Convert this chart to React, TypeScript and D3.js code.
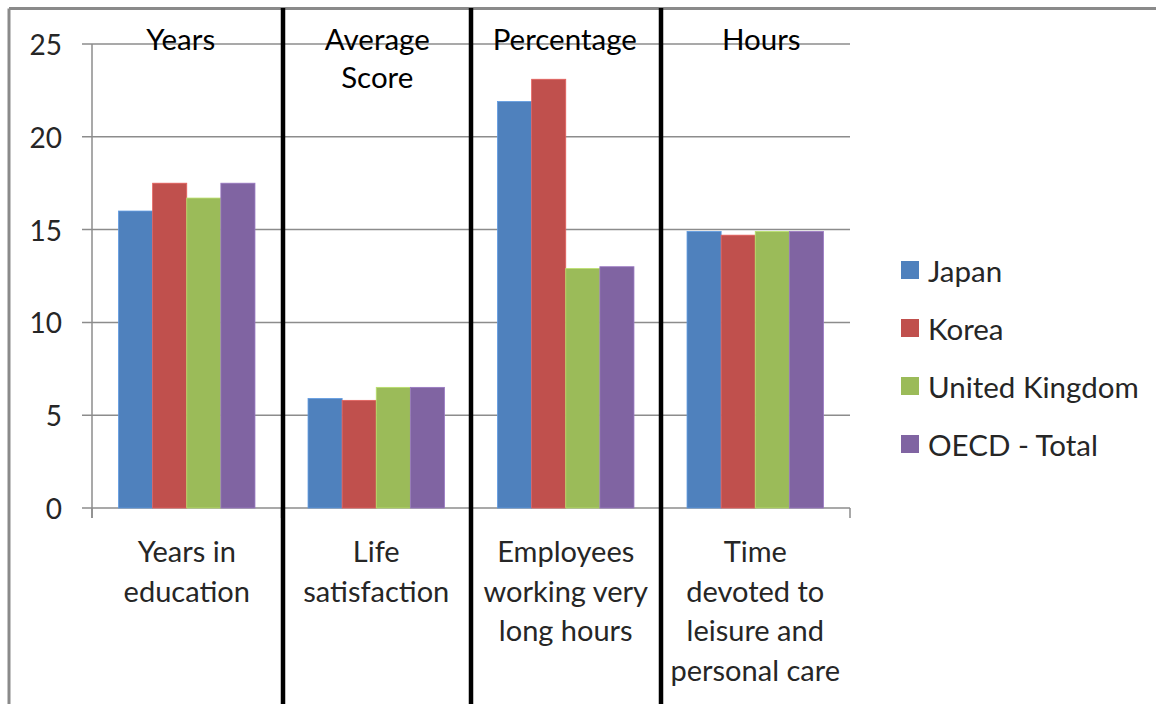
import * as d3 from "d3";

const categories = [
  ["Years in", "education"],
  ["Life", "satisfaction"],
  ["Employees", "working very", "long hours"],
  ["Time", "devoted to", "leisure and", "personal care"],
];
const headers = [["Years"], ["Average", "Score"], ["Percentage"], ["Hours"]];
const series = ["Japan", "Korea", "United Kingdom", "OECD - Total"];
const colors = ["#4F81BD", "#C0504D", "#9BBB59", "#8064A2"];
const japan = [16.0, 5.9, 21.9, 14.9];
const korea = [17.5, 5.8, 23.1, 14.7];
const uk = [16.7, 6.5, 12.9, 14.9];
const oecd = [17.5, 6.5, 13.0, 14.9];
const yTicks = [0, 5, 10, 15, 20, 25];

const W = 1156;
const H = 704;
const MARGIN = { top: 44, left: 92, right: 306, bottom: 196 };
const FONT = "Lato, 'Open Sans', sans-serif";
const headerShift = [-6, 1, -1, 6];
const dividerShift = [1.5, 0, 0.5];

function App() {
  const values = [japan, korea, uk, oecd];
  const innerW = W - MARGIN.left - MARGIN.right;
  const innerH = H - MARGIN.top - MARGIN.bottom;

  const x0 = d3
    .scaleBand()
    .domain(categories.map((_, i) => String(i)))
    .range([0, innerW])
    .padding(0);
  const gap = x0.bandwidth() * 0.14;
  const x1 = d3
    .scaleBand()
    .domain(series)
    .range([gap, x0.bandwidth() - gap])
    .padding(0);
  const y = d3.scaleLinear().domain([0, 25]).range([innerH, 0]);

  const lineH = 39.5;
  const dividers = [1, 2, 3].map((i) => MARGIN.left + (x0(String(i)) ?? 0) + dividerShift[i - 1]);

  return (
    <svg
      width={W}
      height={H}
      style={{ position: "absolute", left: 0, top: 0, background: "#fff" }}
      fontFamily={FONT}
    >
      <rect x={0} y={0} width={W} height={H} fill="#fff" />
      {/* outer frame */}
      <line x1={9} x2={W} y1={8.5} y2={8.5} stroke="#8a8a8a" strokeWidth={3} />
      <line x1={9} x2={9} y1={8.5} y2={H} stroke="#8a8a8a" strokeWidth={3} />

      <g transform={`translate(${MARGIN.left},${MARGIN.top})`}>
        {/* gridlines + y ticks */}
        {yTicks.map((t) => (
          <g key={t}>
            <line x1={-10} x2={innerW} y1={y(t)} y2={y(t)} stroke="#8c8c8c" strokeWidth={1.5} />
            <text
              x={-30}
              y={y(t)}
              textAnchor="end"
              dominantBaseline="central"
              fontSize={28}
              fill="#262626"
            >
              {t}
            </text>
          </g>
        ))}
        <line x1={0} x2={0} y1={0} y2={innerH + 10} stroke="#8c8c8c" strokeWidth={1.5} />
        {/* x ticks */}
        {[0, 1, 2, 3, 4].map((i) => (
          <line
            key={i}
            x1={x0.bandwidth() * i}
            x2={x0.bandwidth() * i}
            y1={innerH}
            y2={innerH + 10}
            stroke="#8c8c8c"
            strokeWidth={1.5}
          />
        ))}

        {/* bars */}
        {categories.map((_, ci) => (
          <g key={ci} transform={`translate(${x0(String(ci))},0)`}>
            {series.map((s, si) => {
              const v = values[si][ci];
              return (
                <rect
                  key={s}
                  x={x1(s)}
                  y={y(v)}
                  width={x1.bandwidth()}
                  height={innerH - y(v)}
                  fill={colors[si]}
                  stroke={d3.color(colors[si])?.brighter(0.5).toString()}
                  strokeWidth={0.8}
                />
              );
            })}
          </g>
        ))}

        {/* category labels */}
        {categories.map((lines, ci) => {
          const cx = (x0(String(ci)) ?? 0) + x0.bandwidth() / 2;
          return (
            <text
              key={ci}
              x={cx}
              y={innerH + 42}
              textAnchor="middle"
              dominantBaseline="central"
              fontSize={29}
              fill="#262626"
            >
              {lines.map((l, li) => (
                <tspan key={li} x={cx} dy={li === 0 ? 0 : lineH}>
                  {l}
                </tspan>
              ))}
            </text>
          );
        })}

        {/* header labels */}
        {headers.map((lines, ci) => {
          const cx = (x0(String(ci)) ?? 0) + x0.bandwidth() / 2 + headerShift[ci];
          return (
            <text
              key={ci}
              x={cx}
              y={-6}
              textAnchor="middle"
              dominantBaseline="central"
              fontSize={29.5}
              fill="#000"
            >
              {lines.map((l, li) => (
                <tspan key={li} x={cx} dy={li === 0 ? 0 : 38}>
                  {l}
                </tspan>
              ))}
            </text>
          );
        })}
      </g>

      {/* thick dividers */}
      {dividers.map((dx, i) => (
        <line key={i} x1={dx} x2={dx} y1={8} y2={H} stroke="#000" strokeWidth={4.5} />
      ))}

      {/* legend */}
      <g transform="translate(901,0)">
        {series.map((s, i) => (
          <g key={s} transform={`translate(0,${270 + i * 58})`}>
            <rect x={0} y={-9} width={18} height={18} fill={colors[i]} />
            <text x={27} y={0} dominantBaseline="central" fontSize={29.5} fill="#262626">
              {s}
            </text>
          </g>
        ))}
      </g>
    </svg>
  );
}

export default App;
